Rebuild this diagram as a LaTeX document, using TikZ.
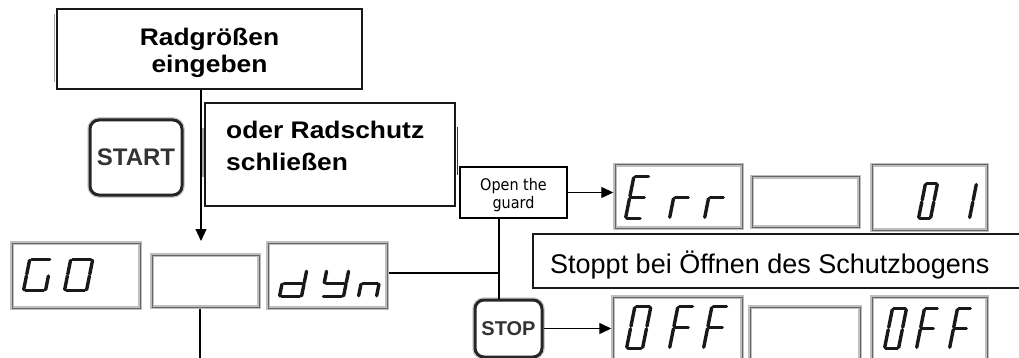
\documentclass[tikz,border=0pt]{standalone}
\usepackage{fontspec}
\setmainfont{Liberation Sans}
\newfontfamily\widesans[FakeStretch=1.1]{Liberation Sans}
\newfontfamily\guardfont[FakeStretch=0.9]{DejaVu Sans}
\usetikzlibrary{arrows.meta,fit}

% seven-segment cell: u in [0,1], v in [0,2]
\tikzset{
  seg a/.style={insert path={(0.09,2)--(0.91,2)}},
  seg b/.style={insert path={(1,1.94)--(1,1.06)}},
  seg c/.style={insert path={(1,0.94)--(1,0.06)}},
  seg d/.style={insert path={(0.09,0)--(0.91,0)}},
  seg e/.style={insert path={(0,0.94)--(0,0.06)}},
  seg f/.style={insert path={(0,1.94)--(0,1.06)}},
  seg g/.style={insert path={(0.09,1)--(0.91,1)}},
}
% #1,#2 lower left corner, #3 width, #4 height, #5 slant, #6 lit segments
\newcommand\lcdglyph[6]{%
  \begin{scope}[shift={(#1,#2)}, xslant=#5, yscale=-1, xscale=#3, yscale=#4/2]
    \foreach \s in {#6} {\draw[segline, seg \s];}
  \end{scope}}

\begin{document}
\begin{tikzpicture}[x=1pt, y=-1pt,
  frame/.style={draw=black!90, line width=1.6pt, fill=white, inner sep=0pt},
  guardbox/.style={draw=black, line width=2.8pt, fill=white, inner sep=0pt},
  lcd/.style={draw=gray!50, line width=3.4pt, fill=white, inner sep=0pt,
    postaction={draw=black!60, line width=1pt}},
  key/.style={draw=black!85, line width=3pt, rounded corners=9pt, fill=white,
    inner sep=0pt, preaction={draw=gray!40, line width=5.5pt}},
  wire/.style={line width=1.2pt, black},
  arrowwire/.style={wire, -{Triangle[length=12pt, width=11pt]}},
  segline/.style={line width=3.4pt, line cap=round, black!90},
  edgeshade/.style={line width=1.8pt, gray!70},
]
\useasboundingbox (0,0) rectangle (1019,358);
\clip (0,0) rectangle (1019,358);

% text boxes
\node[frame, fit={(57,9) (362,89)}] (sizes) {};
\draw[edgeshade] (54.5,14) -- (54.5,82);
\node[font=\widesans\bfseries\fontsize{24}{26.7}\selectfont, align=center, inner sep=0pt]
  (sizestext) at (209.5,52.5) {Radgrößen\\eingeben};

\node[frame, fit={(205,103) (455,206)}] (guardclose) {};
\draw[edgeshade] (203,128) -- (203,177);
\draw[line width=1.8pt, black!80] (457.5,127) -- (457.5,175);
\node[font=\widesans\bfseries\fontsize{24}{32}\selectfont, align=left, inner sep=0pt,
  anchor=west] (guardclosetext) at (226,146) {oder Radschutz\\schließen};

\node[frame, fit={(533,234) (1030,288)}] (stopnote) {};
\node[font=\fontsize{27}{30}\selectfont, inner sep=0pt, anchor=base west]
  (stopnotetext) at (550,273) {Stoppt bei Öffnen des Schutzbogens};

\node[guardbox, fit={(460,167) (567,218)}] (guard) {};
\node[font=\guardfont\fontsize{16}{18}\selectfont, align=center, inner sep=0pt]
  (guardtext) at (513.5,195) {Open the\\guard};

% keys
\node[key, minimum width=92pt, minimum height=75pt, font=\bfseries\fontsize{24}{26}\selectfont,
  text=black!80] (startkey) at (136,157.5) {START};
\node[key, minimum width=67pt, minimum height=57pt, font=\bfseries\fontsize{20}{22}\selectfont,
  text=black!80] (stopkey) at (508.5,328.5) {STOP};

% displays, first row
\node[lcd, fit={(12,243) (140,308)}] (go) {};
\node[lcd, fit={(152,255) (259,307)}] (midblank) {};
\node[lcd, fit={(268,243) (387,308)}] (dyn) {};
\lcdglyph{23.5}{290.5}{22}{31}{0.2}{a,c,d,e,f}
\lcdglyph{64.5}{290.5}{22}{31}{0.2}{a,b,c,d,e,f}
\lcdglyph{279.5}{296.5}{22}{26}{0.2}{b,c,d,e,g}
\lcdglyph{321.5}{296.5}{22}{26}{0.2}{b,c,d,f,g}
\lcdglyph{358.5}{296.5}{18}{26}{0.2}{c,e,g}

% error row
\node[lcd, fit={(615,165) (742,228)}] (err) {};
\node[lcd, fit={(752,177) (859,227)}] (errblank) {};
\node[lcd, fit={(872,165) (987,230)}] (errcode) {};
\lcdglyph{625.5}{218.5}{16}{42}{0.2}{a,d,e,f,g}
\lcdglyph{669.5}{218.5}{16}{42}{0.2}{e,g}
\lcdglyph{704.5}{218.5}{16}{42}{0.2}{e,g}
\lcdglyph{918.5}{218.5}{12}{35}{0.2}{a,b,c,d,e,f}
\lcdglyph{957.5}{218.5}{12}{35}{0.2}{b,c}

% off row
\node[lcd, fit={(613,297) (742,362)}] (offleft) {};
\node[lcd, fit={(750,307) (860,362)}] (offblank) {};
\node[lcd, fit={(872,297) (987,362)}] (offright) {};
\lcdglyph{626.5}{348.5}{16}{42}{0.2}{a,b,c,d,e,f}
\lcdglyph{669.5}{348.5}{16}{42}{0.2}{a,e,f,g}
\lcdglyph{703.5}{348.5}{16}{42}{0.2}{a,e,f,g}
\lcdglyph{884.5}{348.5}{14}{40}{0.2}{a,b,c,d,e,f}
\lcdglyph{916.5}{348.5}{14}{40}{0.2}{a,e,f,g}
\lcdglyph{949.5}{348.5}{14}{40}{0.2}{a,e,f,g}

% connectors
\coordinate (droptip) at (201,241);
\coordinate (exitdown) at (200,362);
\coordinate (trunk) at (499,273);
\draw[arrowwire] (sizes.south -| droptip) -- (droptip);
\draw[wire] (midblank.south -| exitdown) -- (exitdown);
\draw[wire] (guard.south -| trunk) -- (stopkey.north -| trunk);
\draw[wire] (dyn.east |- trunk) -- (trunk);
\draw[arrowwire] (guard.east) -- (guard.east -| err.west);
\draw[arrowwire] (stopkey.east) -- (stopkey.east -| offleft.west);
\end{tikzpicture}
\end{document}
